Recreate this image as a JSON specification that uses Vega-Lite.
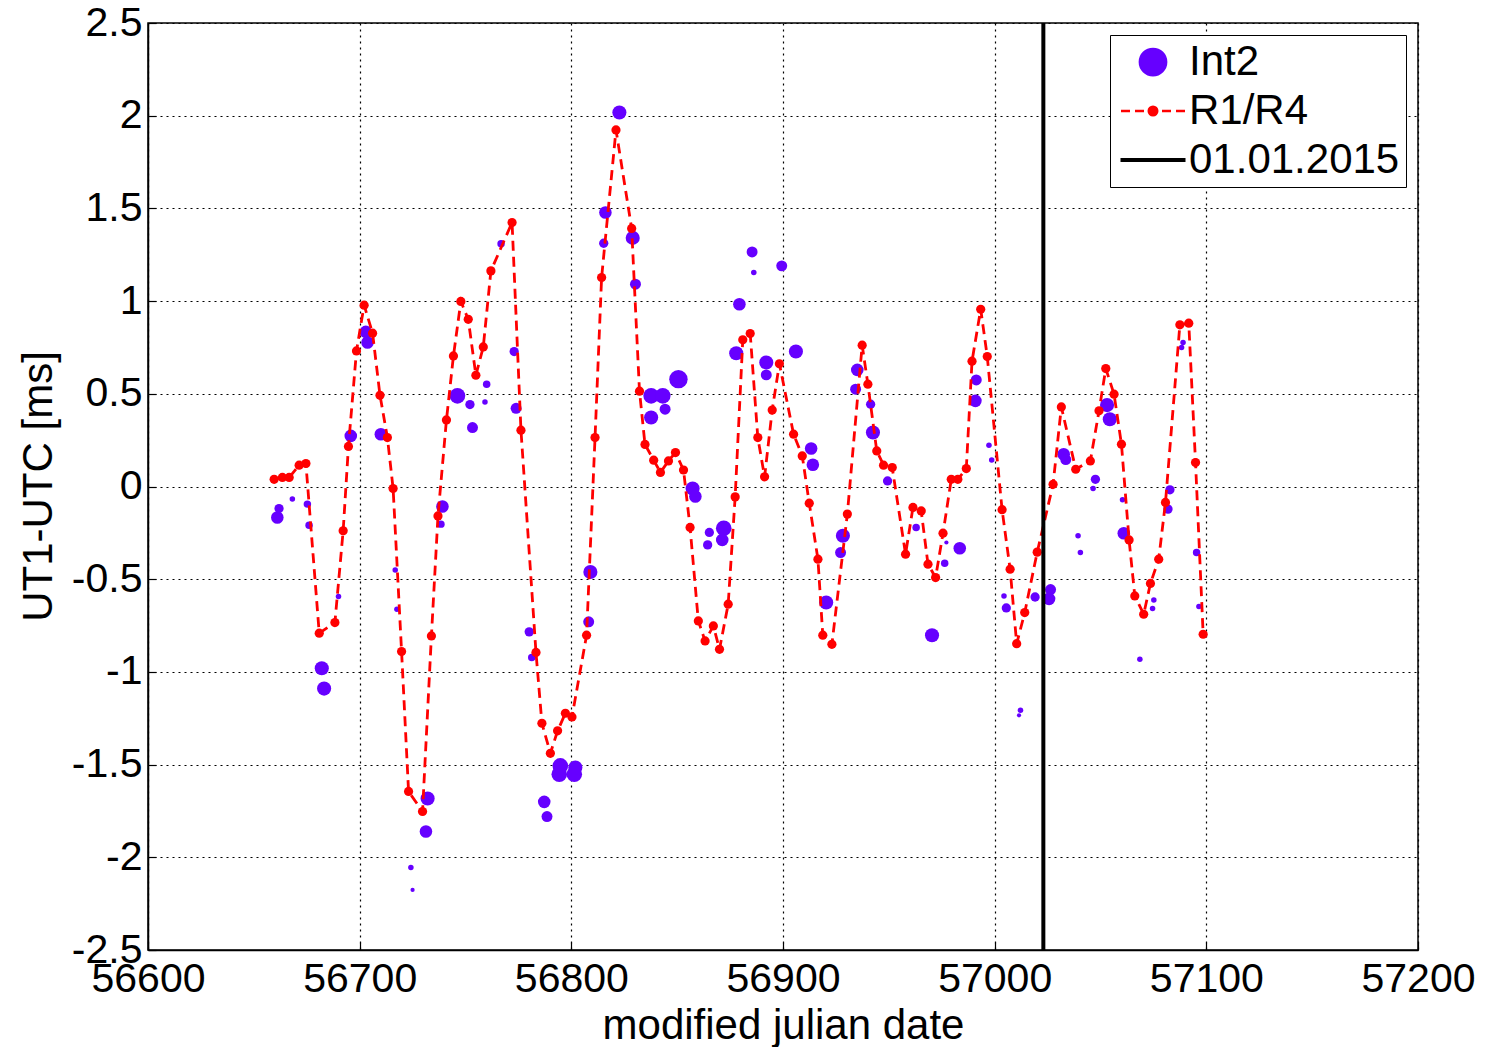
{
  "$schema": "https://vega.github.io/schema/vega-lite/v6.json",
  "width": 1270,
  "height": 927,
  "autosize": "none",
  "padding": {"left": 148, "top": 23, "right": 68, "bottom": 97},
  "background": "white",
  "config": {
    "font": "Liberation Sans",
    "view": {"stroke": "black", "strokeWidth": 1.5},
    "axis": {
      "labelFont": "Liberation Sans", "labelFontSize": 41, "labelColor": "black",
      "titleFont": "Liberation Sans", "titleFontSize": 42, "titleFontWeight": "normal", "titleColor": "black",
      "domainColor": "black", "domainWidth": 1.5,
      "tickColor": "black", "tickWidth": 1.2, "tickSize": -8,
      "gridColor": "black", "gridDash": [2, 4], "gridWidth": 1.2, "gridOpacity": 1
    },
    "legend": {
      "labelFont": "Liberation Sans", "labelFontSize": 42, "labelColor": "black", "labelLimit": 0
    }
  },
  "datasets": {
    "int2": [
      {"date":56661.1,"ut1":-0.167,"w":3,"series":"Int2"},
      {"date":56661.9,"ut1":-0.119,"w":2,"series":"Int2"},
      {"date":56668.2,"ut1":-0.068,"w":1,"series":"Int2"},
      {"date":56675.3,"ut1":-0.095,"w":1.5,"series":"Int2"},
      {"date":56676.1,"ut1":-0.209,"w":1.5,"series":"Int2"},
      {"date":56682.1,"ut1":-0.980,"w":3.5,"series":"Int2"},
      {"date":56683.2,"ut1":-1.090,"w":3.5,"series":"Int2"},
      {"date":56690.0,"ut1":-0.593,"w":1,"series":"Int2"},
      {"date":56695.8,"ut1":0.273,"w":3,"series":"Int2"},
      {"date":56702.9,"ut1":0.834,"w":3,"series":"Int2"},
      {"date":56703.7,"ut1":0.777,"w":3,"series":"Int2"},
      {"date":56710.0,"ut1":0.282,"w":3,"series":"Int2"},
      {"date":56716.8,"ut1":-0.450,"w":1,"series":"Int2"},
      {"date":56717.6,"ut1":-0.662,"w":1,"series":"Int2"},
      {"date":56724.2,"ut1":-2.055,"w":1,"series":"Int2"},
      {"date":56725.0,"ut1":-2.176,"w":0.7,"series":"Int2"},
      {"date":56731.3,"ut1":-1.861,"w":3,"series":"Int2"},
      {"date":56732.1,"ut1":-1.683,"w":3.5,"series":"Int2"},
      {"date":56738.4,"ut1":-0.203,"w":1.5,"series":"Int2"},
      {"date":56739.1,"ut1":-0.108,"w":3,"series":"Int2"},
      {"date":56746.2,"ut1":0.489,"w":4,"series":"Int2"},
      {"date":56752.1,"ut1":0.442,"w":2,"series":"Int2"},
      {"date":56753.3,"ut1":0.318,"w":2.5,"series":"Int2"},
      {"date":56759.2,"ut1":0.456,"w":1,"series":"Int2"},
      {"date":56760.0,"ut1":0.552,"w":1.5,"series":"Int2"},
      {"date":56766.8,"ut1":1.310,"w":1.5,"series":"Int2"},
      {"date":56773.0,"ut1":0.728,"w":2,"series":"Int2"},
      {"date":56773.9,"ut1":0.422,"w":2.5,"series":"Int2"},
      {"date":56780.1,"ut1":-0.784,"w":2,"series":"Int2"},
      {"date":56781.3,"ut1":-0.922,"w":1.5,"series":"Int2"},
      {"date":56787.2,"ut1":-1.701,"w":3,"series":"Int2"},
      {"date":56788.5,"ut1":-1.780,"w":2.5,"series":"Int2"},
      {"date":56794.3,"ut1":-1.552,"w":4,"series":"Int2"},
      {"date":56794.8,"ut1":-1.507,"w":4,"series":"Int2"},
      {"date":56801.4,"ut1":-1.552,"w":4,"series":"Int2"},
      {"date":56801.9,"ut1":-1.516,"w":3.5,"series":"Int2"},
      {"date":56808.2,"ut1":-0.730,"w":2.5,"series":"Int2"},
      {"date":56809.0,"ut1":-0.461,"w":3.5,"series":"Int2"},
      {"date":56815.3,"ut1":1.312,"w":2,"series":"Int2"},
      {"date":56816.1,"ut1":1.478,"w":3,"series":"Int2"},
      {"date":56822.7,"ut1":2.017,"w":3.5,"series":"Int2"},
      {"date":56829.0,"ut1":1.341,"w":3.5,"series":"Int2"},
      {"date":56830.3,"ut1":1.091,"w":2.5,"series":"Int2"},
      {"date":56837.7,"ut1":0.489,"w":4,"series":"Int2"},
      {"date":56837.7,"ut1":0.372,"w":3.5,"series":"Int2"},
      {"date":56843.2,"ut1":0.489,"w":4,"series":"Int2"},
      {"date":56844.3,"ut1":0.417,"w":2.5,"series":"Int2"},
      {"date":56850.6,"ut1":0.579,"w":5,"series":"Int2"},
      {"date":56857.3,"ut1":-0.011,"w":3.5,"series":"Int2"},
      {"date":56858.6,"ut1":-0.054,"w":3,"series":"Int2"},
      {"date":56864.4,"ut1":-0.315,"w":2,"series":"Int2"},
      {"date":56865.2,"ut1":-0.248,"w":2,"series":"Int2"},
      {"date":56871.3,"ut1":-0.288,"w":3,"series":"Int2"},
      {"date":56872.0,"ut1":-0.225,"w":4,"series":"Int2"},
      {"date":56877.9,"ut1":0.719,"w":3.5,"series":"Int2"},
      {"date":56879.4,"ut1":0.983,"w":3,"series":"Int2"},
      {"date":56885.4,"ut1":1.265,"w":2.5,"series":"Int2"},
      {"date":56886.2,"ut1":1.154,"w":1,"series":"Int2"},
      {"date":56892.1,"ut1":0.669,"w":3.5,"series":"Int2"},
      {"date":56892.1,"ut1":0.602,"w":2.5,"series":"Int2"},
      {"date":56899.4,"ut1":1.190,"w":2.5,"series":"Int2"},
      {"date":56906.1,"ut1":0.728,"w":3.5,"series":"Int2"},
      {"date":56913.3,"ut1":0.205,"w":3,"series":"Int2"},
      {"date":56914.1,"ut1":0.117,"w":3,"series":"Int2"},
      {"date":56920.4,"ut1":-0.626,"w":3.5,"series":"Int2"},
      {"date":56927.2,"ut1":-0.356,"w":2.5,"series":"Int2"},
      {"date":56928.3,"ut1":-0.266,"w":3.5,"series":"Int2"},
      {"date":56934.3,"ut1":0.525,"w":2.5,"series":"Int2"},
      {"date":56935.1,"ut1":0.629,"w":3,"series":"Int2"},
      {"date":56941.4,"ut1":0.444,"w":2,"series":"Int2"},
      {"date":56942.5,"ut1":0.291,"w":3.5,"series":"Int2"},
      {"date":56949.4,"ut1":0.030,"w":2,"series":"Int2"},
      {"date":56962.9,"ut1":-0.221,"w":1.5,"series":"Int2"},
      {"date":56970.4,"ut1":-0.802,"w":3.5,"series":"Int2"},
      {"date":56976.4,"ut1":-0.414,"w":1.5,"series":"Int2"},
      {"date":56977.2,"ut1":-0.302,"w":0.7,"series":"Int2"},
      {"date":56983.5,"ut1":-0.333,"w":3,"series":"Int2"},
      {"date":56990.9,"ut1":0.462,"w":3,"series":"Int2"},
      {"date":56991.3,"ut1":0.575,"w":2.5,"series":"Int2"},
      {"date":56997.3,"ut1":0.223,"w":1,"series":"Int2"},
      {"date":56998.6,"ut1":0.143,"w":1,"series":"Int2"},
      {"date":57004.4,"ut1":-0.590,"w":1,"series":"Int2"},
      {"date":57005.5,"ut1":-0.655,"w":2,"series":"Int2"},
      {"date":57011.5,"ut1":-1.234,"w":0.7,"series":"Int2"},
      {"date":57012.2,"ut1":-1.207,"w":1,"series":"Int2"},
      {"date":57019.1,"ut1":-0.596,"w":2,"series":"Int2"},
      {"date":57025.7,"ut1":-0.606,"w":3,"series":"Int2"},
      {"date":57026.4,"ut1":-0.556,"w":2.5,"series":"Int2"},
      {"date":57032.6,"ut1":0.174,"w":3,"series":"Int2"},
      {"date":57033.6,"ut1":0.145,"w":2.5,"series":"Int2"},
      {"date":57039.4,"ut1":-0.266,"w":1,"series":"Int2"},
      {"date":57040.5,"ut1":-0.356,"w":1,"series":"Int2"},
      {"date":57046.5,"ut1":-0.011,"w":1,"series":"Int2"},
      {"date":57047.6,"ut1":0.039,"w":2,"series":"Int2"},
      {"date":57053.1,"ut1":0.439,"w":3.5,"series":"Int2"},
      {"date":57054.4,"ut1":0.363,"w":3.5,"series":"Int2"},
      {"date":57060.4,"ut1":-0.072,"w":1,"series":"Int2"},
      {"date":57061.0,"ut1":-0.252,"w":3,"series":"Int2"},
      {"date":57068.6,"ut1":-0.932,"w":1,"series":"Int2"},
      {"date":57074.6,"ut1":-0.658,"w":1,"series":"Int2"},
      {"date":57075.2,"ut1":-0.612,"w":1,"series":"Int2"},
      {"date":57081.9,"ut1":-0.122,"w":2,"series":"Int2"},
      {"date":57082.8,"ut1":-0.018,"w":2,"series":"Int2"},
      {"date":57088.3,"ut1":0.750,"w":1,"series":"Int2"},
      {"date":57089.0,"ut1":0.777,"w":1,"series":"Int2"},
      {"date":57095.4,"ut1":-0.356,"w":1.5,"series":"Int2"},
      {"date":57096.5,"ut1":-0.647,"w":1,"series":"Int2"}
    ],
    "r1r4": [
      {"date":56659.6,"ut1":0.039,"series":"R1/R4"},
      {"date":56663.5,"ut1":0.049,"series":"R1/R4"},
      {"date":56666.7,"ut1":0.049,"series":"R1/R4"},
      {"date":56671.4,"ut1":0.115,"series":"R1/R4"},
      {"date":56674.6,"ut1":0.124,"series":"R1/R4"},
      {"date":56680.9,"ut1":-0.791,"series":"R1/R4"},
      {"date":56688.3,"ut1":-0.734,"series":"R1/R4"},
      {"date":56692.2,"ut1":-0.239,"series":"R1/R4"},
      {"date":56694.7,"ut1":0.216,"series":"R1/R4"},
      {"date":56698.5,"ut1":0.731,"series":"R1/R4"},
      {"date":56702.1,"ut1":0.978,"series":"R1/R4"},
      {"date":56706.1,"ut1":0.827,"series":"R1/R4"},
      {"date":56709.6,"ut1":0.492,"series":"R1/R4"},
      {"date":56713.1,"ut1":0.264,"series":"R1/R4"},
      {"date":56715.8,"ut1":-0.011,"series":"R1/R4"},
      {"date":56719.8,"ut1":-0.890,"series":"R1/R4"},
      {"date":56723.1,"ut1":-1.645,"series":"R1/R4"},
      {"date":56729.7,"ut1":-1.753,"series":"R1/R4"},
      {"date":56733.9,"ut1":-0.806,"series":"R1/R4"},
      {"date":56737.0,"ut1":-0.159,"series":"R1/R4"},
      {"date":56741.0,"ut1":0.359,"series":"R1/R4"},
      {"date":56744.3,"ut1":0.704,"series":"R1/R4"},
      {"date":56747.8,"ut1":0.998,"series":"R1/R4"},
      {"date":56751.3,"ut1":0.902,"series":"R1/R4"},
      {"date":56754.9,"ut1":0.600,"series":"R1/R4"},
      {"date":56758.4,"ut1":0.753,"series":"R1/R4"},
      {"date":56762.0,"ut1":1.163,"series":"R1/R4"},
      {"date":56772.0,"ut1":1.424,"series":"R1/R4"},
      {"date":56776.2,"ut1":0.304,"series":"R1/R4"},
      {"date":56783.3,"ut1":-0.895,"series":"R1/R4"},
      {"date":56786.1,"ut1":-1.277,"series":"R1/R4"},
      {"date":56790.1,"ut1":-1.439,"series":"R1/R4"},
      {"date":56793.5,"ut1":-1.318,"series":"R1/R4"},
      {"date":56797.2,"ut1":-1.223,"series":"R1/R4"},
      {"date":56800.3,"ut1":-1.243,"series":"R1/R4"},
      {"date":56807.2,"ut1":-0.802,"series":"R1/R4"},
      {"date":56811.2,"ut1":0.264,"series":"R1/R4"},
      {"date":56814.3,"ut1":1.127,"series":"R1/R4"},
      {"date":56821.1,"ut1":1.923,"series":"R1/R4"},
      {"date":56828.5,"ut1":1.392,"series":"R1/R4"},
      {"date":56832.2,"ut1":0.514,"series":"R1/R4"},
      {"date":56834.8,"ut1":0.227,"series":"R1/R4"},
      {"date":56838.9,"ut1":0.142,"series":"R1/R4"},
      {"date":56842.1,"ut1":0.076,"series":"R1/R4"},
      {"date":56845.9,"ut1":0.138,"series":"R1/R4"},
      {"date":56849.2,"ut1":0.183,"series":"R1/R4"},
      {"date":56853.0,"ut1":0.089,"series":"R1/R4"},
      {"date":56856.1,"ut1":-0.221,"series":"R1/R4"},
      {"date":56860.0,"ut1":-0.725,"series":"R1/R4"},
      {"date":56863.2,"ut1":-0.833,"series":"R1/R4"},
      {"date":56867.1,"ut1":-0.752,"series":"R1/R4"},
      {"date":56870.0,"ut1":-0.878,"series":"R1/R4"},
      {"date":56874.1,"ut1":-0.635,"series":"R1/R4"},
      {"date":56877.4,"ut1":-0.056,"series":"R1/R4"},
      {"date":56881.0,"ut1":0.791,"series":"R1/R4"},
      {"date":56884.5,"ut1":0.825,"series":"R1/R4"},
      {"date":56888.1,"ut1":0.264,"series":"R1/R4"},
      {"date":56891.3,"ut1":0.052,"series":"R1/R4"},
      {"date":56894.9,"ut1":0.412,"series":"R1/R4"},
      {"date":56898.3,"ut1":0.662,"series":"R1/R4"},
      {"date":56905.0,"ut1":0.282,"series":"R1/R4"},
      {"date":56909.1,"ut1":0.165,"series":"R1/R4"},
      {"date":56912.4,"ut1":-0.090,"series":"R1/R4"},
      {"date":56916.5,"ut1":-0.392,"series":"R1/R4"},
      {"date":56918.8,"ut1":-0.802,"series":"R1/R4"},
      {"date":56923.1,"ut1":-0.851,"series":"R1/R4"},
      {"date":56930.4,"ut1":-0.149,"series":"R1/R4"},
      {"date":56937.4,"ut1":0.762,"series":"R1/R4"},
      {"date":56940.1,"ut1":0.552,"series":"R1/R4"},
      {"date":56944.3,"ut1":0.192,"series":"R1/R4"},
      {"date":56947.5,"ut1":0.115,"series":"R1/R4"},
      {"date":56951.6,"ut1":0.102,"series":"R1/R4"},
      {"date":56957.9,"ut1":-0.365,"series":"R1/R4"},
      {"date":56961.4,"ut1":-0.113,"series":"R1/R4"},
      {"date":56965.3,"ut1":-0.132,"series":"R1/R4"},
      {"date":56968.5,"ut1":-0.419,"series":"R1/R4"},
      {"date":56972.1,"ut1":-0.491,"series":"R1/R4"},
      {"date":56975.6,"ut1":-0.252,"series":"R1/R4"},
      {"date":56979.5,"ut1":0.039,"series":"R1/R4"},
      {"date":56982.6,"ut1":0.039,"series":"R1/R4"},
      {"date":56986.6,"ut1":0.097,"series":"R1/R4"},
      {"date":56989.3,"ut1":0.676,"series":"R1/R4"},
      {"date":56993.4,"ut1":0.956,"series":"R1/R4"},
      {"date":56996.5,"ut1":0.701,"series":"R1/R4"},
      {"date":57003.5,"ut1":-0.125,"series":"R1/R4"},
      {"date":57007.3,"ut1":-0.446,"series":"R1/R4"},
      {"date":57010.4,"ut1":-0.848,"series":"R1/R4"},
      {"date":57014.2,"ut1":-0.680,"series":"R1/R4"},
      {"date":57020.1,"ut1":-0.354,"series":"R1/R4"},
      {"date":57027.6,"ut1":0.012,"series":"R1/R4"},
      {"date":57031.5,"ut1":0.429,"series":"R1/R4"},
      {"date":57038.3,"ut1":0.093,"series":"R1/R4"},
      {"date":57045.2,"ut1":0.138,"series":"R1/R4"},
      {"date":57049.3,"ut1":0.408,"series":"R1/R4"},
      {"date":57052.5,"ut1":0.636,"series":"R1/R4"},
      {"date":57056.4,"ut1":0.498,"series":"R1/R4"},
      {"date":57059.9,"ut1":0.228,"series":"R1/R4"},
      {"date":57063.5,"ut1":-0.288,"series":"R1/R4"},
      {"date":57066.2,"ut1":-0.590,"series":"R1/R4"},
      {"date":57070.4,"ut1":-0.689,"series":"R1/R4"},
      {"date":57073.6,"ut1":-0.523,"series":"R1/R4"},
      {"date":57077.5,"ut1":-0.392,"series":"R1/R4"},
      {"date":57080.7,"ut1":-0.086,"series":"R1/R4"},
      {"date":57087.5,"ut1":0.872,"series":"R1/R4"},
      {"date":57091.7,"ut1":0.881,"series":"R1/R4"},
      {"date":57094.9,"ut1":0.129,"series":"R1/R4"},
      {"date":57098.5,"ut1":-0.797,"series":"R1/R4"}
    ],
    "epoch": [
      {"date": 57023, "series": "01.01.2015"}
    ]
  },
  "encoding": {
    "x": {
      "field": "date", "type": "quantitative",
      "scale": {"domain": [56600, 57200], "nice": false, "zero": false},
      "axis": {
        "title": "modified julian date",
        "values": [56600, 56700, 56800, 56900, 57000, 57100, 57200],
        "labelExpr": "datum.value + ''",
        "labelPadding": 17,
        "labelFlush": false,
        "titleY": 88, "titleBaseline": "alphabetic"
      }
    }
  },
  "layer": [
    {
      "data": {"name": "int2"},
      "mark": {"type": "point", "filled": true, "opacity": 1},
      "encoding": {
        "y": {
          "field": "ut1", "type": "quantitative",
          "scale": {"domain": [-2.5, 2.5], "nice": false, "zero": false},
          "axis": {
            "title": "UT1-UTC [ms]",
            "values": [-2.5, -2, -1.5, -1, -0.5, 0, 0.5, 1, 1.5, 2, 2.5],
            "labelExpr": "datum.value + ''",
            "labelPadding": 14,
            "labelFlush": false,
            "titleX": -97, "titleY": 463, "titleBaseline": "alphabetic", "titleAlign": "center"
          }
        },
        "size": {
          "field": "w", "type": "quantitative",
          "scale": {"type": "pow", "exponent": 1.5, "domain": [0, 5], "range": [0, 340]},
          "legend": null
        },
        "color": {
          "field": "series", "type": "nominal",
          "scale": {"domain": ["Int2", "R1/R4", "01.01.2015"], "range": ["#6600ff", "#ff0000", "#000000"]},
          "legend": {
            "title": null,
            "orient": "none", "legendX": 962, "legendY": 12,
            "padding": 6, "rowPadding": 7,
            "strokeColor": "black", "fillColor": "white",
            "symbolSize": 625, "symbolOffset": 16, "labelOffset": 15, "labelLimit": 0,
            "labelFontSize": 42, "labelFont": "Liberation Sans",
            "encoding": {
              "symbols": {
                "shape": {"value": {"expr": "datum.value === 'Int2' ? 'M-1.05,0A1.05,1.05 0 1 0 1.05,0A1.05,1.05 0 1 0 -1.05,0Z' : datum.value === 'R1/R4' ? 'M-2.56,0H-1.84M-1.44,0H-0.72M-0.4,0H0.4M0.72,0H1.44M1.84,0H2.56M-0.34,0A0.34,0.34 0 1 0 0.34,0A0.34,0.34 0 1 0 -0.34,0Z' : 'M-2.6,0H2.6'"}},
                "fill": {"value": {"expr": "datum.value === 'Int2' ? '#6600ff' : datum.value === 'R1/R4' ? '#ff0000' : 'transparent'"}},
                "stroke": {"value": {"expr": "datum.value === 'Int2' ? '#6600ff' : datum.value === 'R1/R4' ? '#ff0000' : '#000000'"}},
                "strokeWidth": {"value": {"expr": "datum.value === '01.01.2015' ? 4 : 2.5"}},
                "opacity": {"value": 1}
              }
            }
          }
        }
      }
    },
    {
      "data": {"name": "r1r4"},
      "mark": {"type": "line", "strokeDash": [10, 6], "strokeWidth": 2.8, "point": {"filled": true, "size": 85}},
      "encoding": {
        "y": {"field": "ut1", "type": "quantitative"},
        "color": {"field": "series", "type": "nominal"}
      }
    },
    {
      "data": {"name": "epoch"},
      "mark": {"type": "rule", "strokeWidth": 4},
      "encoding": {
        "color": {"field": "series", "type": "nominal"}
      }
    }
  ]
}
